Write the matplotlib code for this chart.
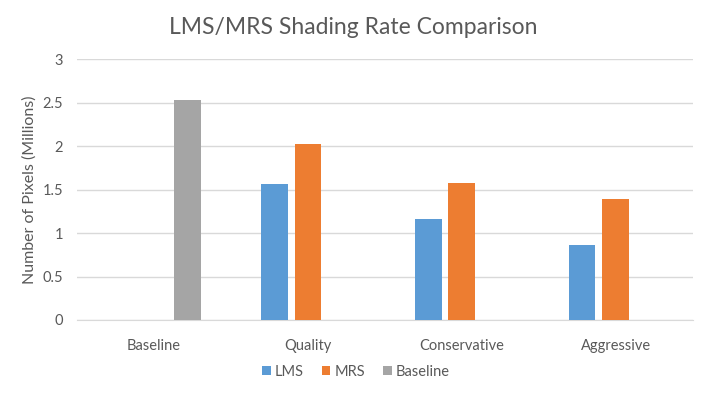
import numpy as np
import matplotlib.pyplot as plt

plt.rcParams['font.family'] = ['Lato', 'DejaVu Sans']

categories = ["Baseline", "Quality", "Conservative", "Aggressive"]
lms = [0, 1.565, 1.16, 0.865]
mrs = [0, 2.025, 1.575, 1.39]
baseline = [2.53, 0, 0, 0]

fig = plt.figure(figsize=(7.07, 3.94), dpi=100)
ax = fig.add_axes([0.109, 0.188, 0.871, 0.661])

x = np.arange(len(categories))
w = 0.175
step = 0.22
ax.bar(x - step, lms, w, color='#5b9bd5', label='LMS', zorder=3)
ax.bar(x, mrs, w, color='#ed7d31', label='MRS', zorder=3)
ax.bar(x + step, baseline, w, color='#a5a5a5', label='Baseline', zorder=3)

ax.set_xlim(-0.5, 3.5)
ax.set_ylim(0, 3)
ax.set_yticks([0, 0.5, 1, 1.5, 2, 2.5, 3])
ax.set_yticklabels(['0', '0.5', '1', '1.5', '2', '2.5', '3'])
ax.set_xticks(x)
ax.set_xticklabels(categories)
ax.yaxis.grid(True, color='#d9d9d9', linewidth=1, zorder=0)
for s in ['top', 'right', 'left']:
    ax.spines[s].set_visible(False)
ax.spines['bottom'].set_color('#d9d9d9')
ax.tick_params(axis='both', length=0, labelsize=10.5, labelcolor='#595959')
ax.tick_params(axis='x', pad=14)
ax.tick_params(axis='y', pad=10)

ax.set_ylabel('Number of Pixels (Millions)', fontsize=11.5, color='#595959')
ax.yaxis.set_label_coords(-0.066, 0.5)
fig.text(0.5, 0.929, 'LMS/MRS Shading Rate Comparison', fontsize=16.5,
         color='#595959', ha='center', va='center')

fig.legend(loc='center', bbox_to_anchor=(356 / 707, 0.056), ncol=3, frameon=False,
           fontsize=10.5, labelcolor='#595959', handlelength=0.6, handleheight=0.6,
           handletextpad=0.3, columnspacing=1.2)

fig.savefig('out.png', dpi=100)
